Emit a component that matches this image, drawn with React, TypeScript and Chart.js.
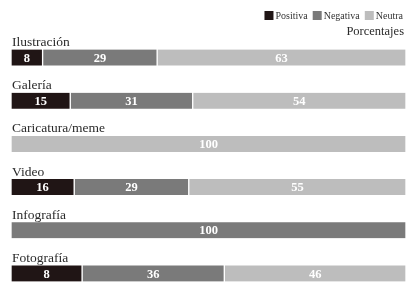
import { useEffect, useRef } from 'react';
import { Chart, registerables } from 'chart.js';

Chart.register(...registerables);

const categories = ['Ilustración', 'Galería', 'Caricatura/meme', 'Video', 'Infografía', 'Fotografía'];
const seriesNames = ['Positiva', 'Negativa', 'Neutra'];
const positiva = [8, 15, 0, 16, 0, 18];
const negativa = [29, 31, 0, 29, 100, 36];
const neutra = [63, 54, 100, 55, 0, 46];
// printed labels as they appear in the source
const positivaLabels = ['8', '15', '', '16', '', '8'];
const negativaLabels = ['29', '31', '', '29', '100', '36'];
const neutraLabels = ['63', '54', '100', '55', '', '46'];
const axisTitle = 'Porcentajes';

const colors = ['#201515', '#7a7a7a', '#bdbdbd'];
const SERIF = '"Liberation Serif", "DejaVu Serif", serif';

const overlay = {
  id: 'overlay',
  afterDatasetsDraw(chart: any) {
    const ctx = chart.ctx as CanvasRenderingContext2D;
    const yScale = chart.scales.y;
    const area = chart.chartArea;
    ctx.save();

    // category labels above each bar
    ctx.font = `13.5px ${SERIF}`;
    ctx.fillStyle = '#2a2a2a';
    ctx.textAlign = 'left';
    ctx.textBaseline = 'alphabetic';
    categories.forEach((c, i) => {
      const y = yScale.getPixelForValue(i);
      ctx.fillText(c, area.left + 1, y - 11.5);
    });

    // values inside segments
    const labelSets = [positivaLabels, negativaLabels, neutraLabels];
    ctx.font = `bold 12.5px ${SERIF}`;
    ctx.fillStyle = '#ffffff';
    ctx.textAlign = 'center';
    ctx.textBaseline = 'middle';
    chart.data.datasets.forEach((_ds: any, di: number) => {
      const meta = chart.getDatasetMeta(di);
      meta.data.forEach((bar: any, i: number) => {
        const t = labelSets[di][i];
        if (!t) return;
        const { x, base, y } = bar.getProps(['x', 'base', 'y'], true);
        ctx.fillText(t, (x + base) / 2, y + 1);
      });
    });

    // legend (top right)
    ctx.font = `10px ${SERIF}`;
    ctx.textAlign = 'left';
    ctx.textBaseline = 'middle';
    const box = 9;
    const gapBoxText = 2;
    const gapItems = 5;
    const widths = chart.data.datasets.map((ds: any) => box + gapBoxText + ctx.measureText(ds.label).width);
    const total = widths.reduce((a: number, b: number) => a + b, 0) + gapItems * (widths.length - 1);
    let lx = 403 - total;
    const ly = 15.5;
    chart.data.datasets.forEach((ds: any, di: number) => {
      ctx.fillStyle = ds.backgroundColor;
      ctx.fillRect(lx, ly - box / 2, box, box);
      ctx.fillStyle = '#333';
      ctx.fillText(ds.label, lx + box + gapBoxText, ly + 0.5);
      lx += widths[di] + gapItems;
    });

    // axis title
    ctx.font = `12.5px ${SERIF}`;
    ctx.fillStyle = '#2a2a2a';
    ctx.textAlign = 'right';
    ctx.textBaseline = 'alphabetic';
    ctx.fillText(axisTitle, 404, 34.5);

    ctx.restore();
  },
};

export default function App() {
  const ref = useRef<HTMLCanvasElement | null>(null);
  useEffect(() => {
    if (!ref.current) return;
    const values = [positiva, negativa, neutra];
    const chart = new Chart(ref.current, {
      type: 'bar',
      data: {
        labels: categories,
        datasets: seriesNames.map((name, i) => ({
          label: name,
          data: values[i].map((v) => (v === 0 ? null : v)),
          backgroundColor: colors[i],
          borderColor: '#ffffff',
          borderWidth: { left: 1, right: 1, top: 0, bottom: 0 },
          borderSkipped: false,
          barThickness: 16,
        })),
      },
      options: {
        indexAxis: 'y',
        animation: false,
        responsive: true,
        maintainAspectRatio: false,
        layout: { padding: { left: 11, right: 14, top: 36, bottom: 0 } },
        scales: {
          x: { stacked: true, min: 0, max: 100, display: false },
          y: { stacked: true, display: false },
        },
        plugins: {
          legend: { display: false },
          title: { display: false },
          tooltip: { enabled: false },
        },
      },
      plugins: [overlay],
    });
    return () => chart.destroy();
  }, []);

  return (
    <div style={{ position: 'fixed', left: 0, top: 0, width: 420, height: 295, background: '#fff' }}>
      <canvas ref={ref} />
    </div>
  );
}
